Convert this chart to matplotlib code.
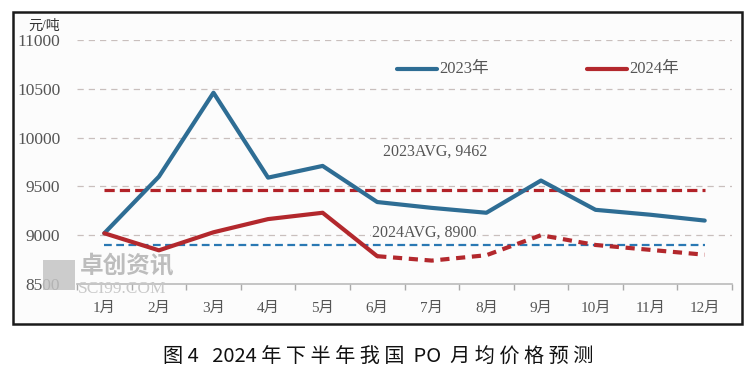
import matplotlib.pyplot as plt
from matplotlib.patches import Rectangle

months = ['1月', '2月', '3月', '4月', '5月', '6月', '7月', '8月', '9月', '10月', '11月', '12月']
price_2023 = [9020, 9600, 10460, 9590, 9710, 9340, 9280, 9230, 9560, 9260, 9210, 9150]
price_2024_actual = [9020, 8845, 9030, 9165, 9230, 8785]
price_2024_forecast = [8785, 8740, 8795, 9000, 8900, 8850, 8800]
avg_2023 = 9462
avg_2024 = 8900
yticks = [8500, 9000, 9500, 10000, 10500, 11000]

serif = ['Liberation Serif', 'Noto Sans CJK SC']
blue = '#2e6d94'
red = '#b3282d'
bg = '#fcfcfc'

fig = plt.figure(figsize=(7.5, 3.84), dpi=100)
ax = fig.add_axes([0.1027, 0.2604, 0.8733, 0.6354])
ax.set_facecolor(bg)

# outer frame
fig.patches.append(Rectangle((13 / 750, 1 - 324 / 384), 729 / 750, 312 / 384,
                             transform=fig.transFigure, fill=True, facecolor=bg,
                             edgecolor='#1a1a1a', linewidth=1.8, zorder=-1))

x = list(range(len(months)))
ax.set_xlim(-0.5, 11.5)
ax.set_ylim(8500, 11000)

for v in yticks[1:]:
    ax.axhline(v, color='#c9bfbd', linestyle=(0, (5, 4)), linewidth=0.9, zorder=1)

ax.plot([0, 11], [avg_2023] * 2, color='#b22228', linewidth=2.3, linestyle=(0, (3.2, 1.6)), zorder=2)
ax.plot([0, 11], [avg_2024] * 2, color='#2a78b3', linewidth=1.6, linestyle=(0, (3.5, 2)), zorder=2)

ax.plot(x, price_2023, color=blue, linewidth=3.0, solid_capstyle='round', label='2023年', zorder=3)
ax.plot(x[:6], price_2024_actual, color=red, linewidth=3.0, solid_capstyle='round', label='2024年', zorder=3)
ax.plot(x[5:], price_2024_forecast, color=red, linewidth=3.0, linestyle=(0, (2.2, 1.6)), zorder=3)

ax.text(5.11, 9860, '2023AVG, 9462', fontsize=11.5, color='#555555', family=serif, va='center')
ax.text(4.9, 9025, '2024AVG, 8900', fontsize=11.5, color='#555555', family=serif, va='center',
        bbox=dict(facecolor=bg, edgecolor='none', pad=0.5), zorder=2.5)

# legend
ax.plot([5.37, 6.1], [10700, 10700], color=blue, linewidth=3.0, solid_capstyle='round')
ax.text(6.13, 10700, '2023年', fontsize=12, color='#555555', family=serif, va='center')
ax.plot([8.85, 9.58], [10700, 10700], color=red, linewidth=3.0, solid_capstyle='round')
ax.text(9.61, 10700, '2024年', fontsize=12, color='#555555', family=serif, va='center')

ax.set_yticks(yticks)
ax.set_yticklabels([str(v) for v in yticks], family=serif, fontsize=12.5, color='#555555')
ax.set_xticks(x)
ax.set_xticklabels(months, family=serif, fontsize=11, color='#555555')
ax.tick_params(axis='y', length=0, pad=12)
ax.tick_params(axis='x', which='major', length=0, pad=13)
ax.set_xticks([i - 0.5 for i in range(13)], minor=True)
ax.tick_params(axis='x', which='minor', length=4, color='#aaaaaa', width=1)

for s in ['top', 'right', 'left']:
    ax.spines[s].set_visible(False)
ax.spines['bottom'].set_color('#bbbbbb')
ax.spines['bottom'].set_linewidth(1.2)

fig.text(0.038, 0.922, '元/吨', fontsize=10, color='#333333', family=serif)

# watermark
fig.patches.append(Rectangle((0.057, 0.245), 0.043, 0.078, transform=fig.transFigure,
                             facecolor='#c4c4c4', edgecolor='none', alpha=0.85))
fig.text(0.107, 0.287, '卓创资讯', fontsize=17, color='#bdbdbd', family=serif, weight='bold')
fig.text(0.104, 0.236, 'SCI99.COM', fontsize=12.5, color='#c8c8c8', family=serif)

fig.text(0.504, 0.07, '图 4   2024 年 下 半 年 我 国  PO  月 均 价 格 预 测', fontsize=14.5, color='#111111',
         family=['Noto Sans CJK SC', 'DejaVu Sans'], ha='center', va='center')

fig.savefig('out.png', dpi=100, facecolor='white')
